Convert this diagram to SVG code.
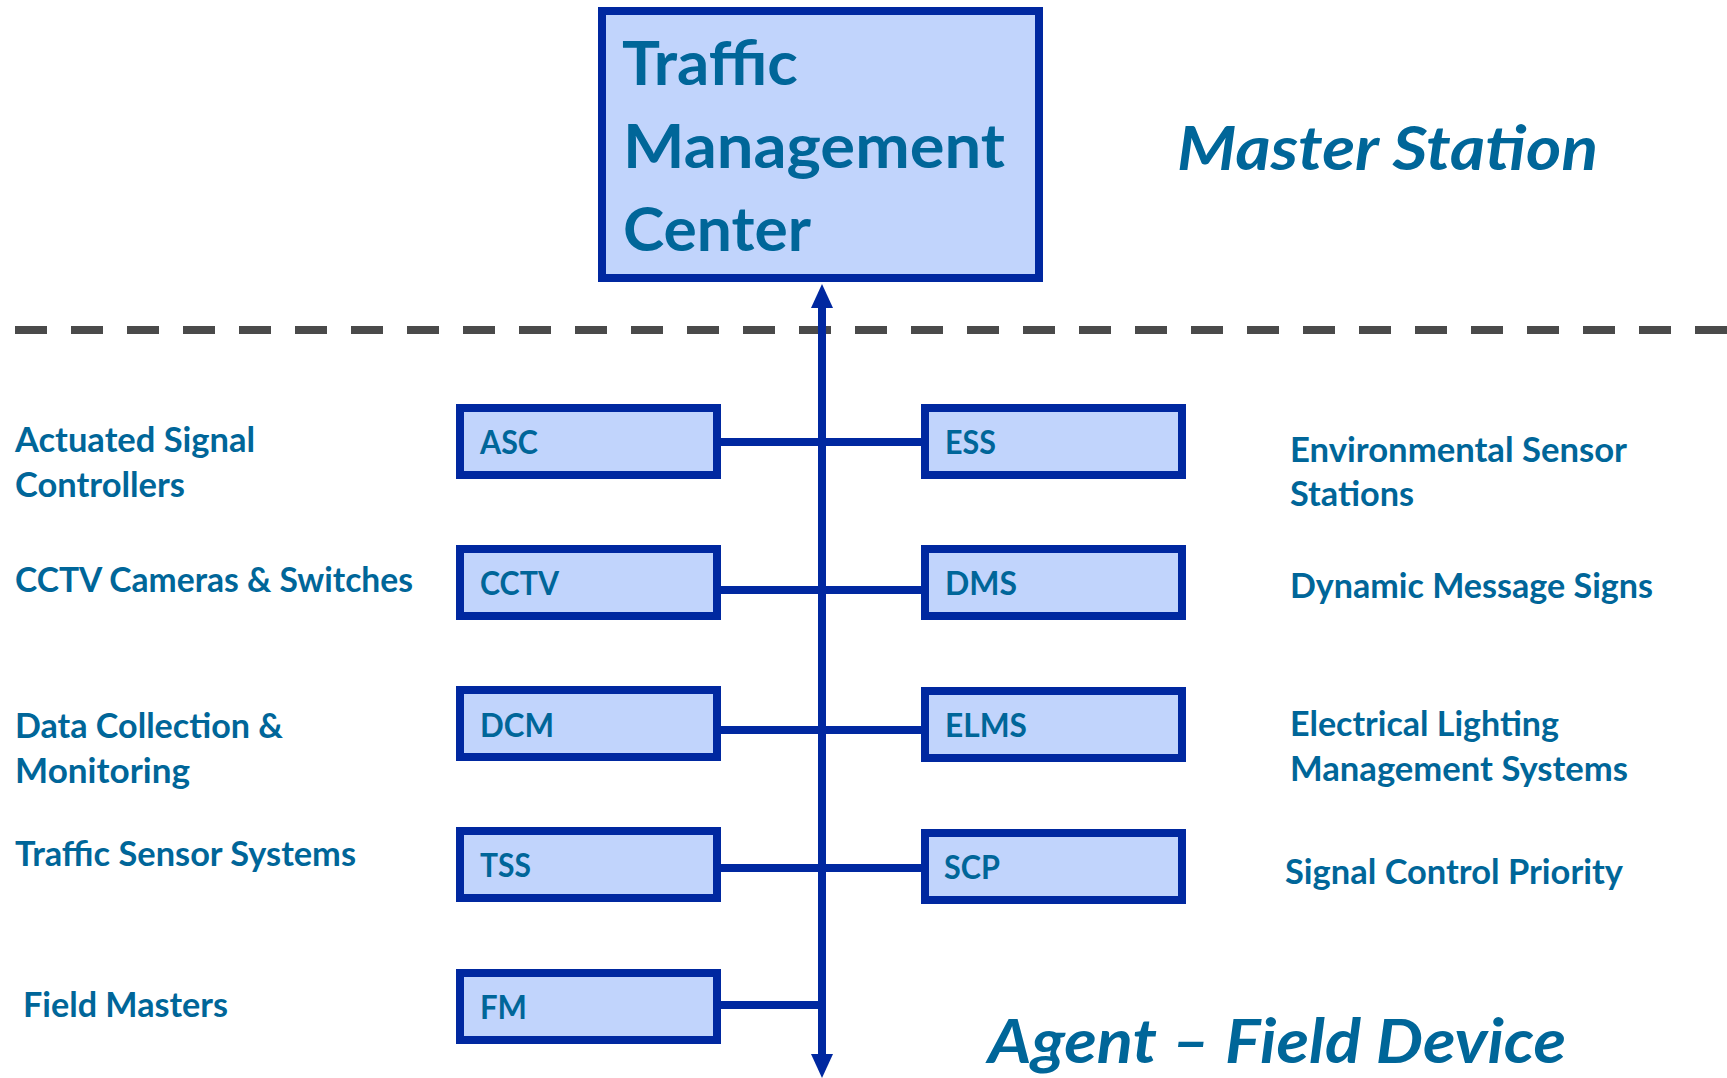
<svg xmlns="http://www.w3.org/2000/svg" width="1727" height="1078" viewBox="0 0 1727 1078">
<style>
.box{fill:#C1D4FC;stroke:#0028A0;stroke-width:8}
.conn{stroke:#0028A0;stroke-width:8;fill:none}
.t{font-family:Lato,"Open Sans","Liberation Sans",sans-serif;font-weight:bold;fill:#006699}
.lbl{font-size:35px}
.bl{font-size:33px}
.big{font-size:61px}
.it{font-size:61px;font-style:italic}
</style>
<defs>
<marker id="ah" viewBox="0 0 24 22" refX="2" refY="11" markerWidth="24" markerHeight="22" markerUnits="userSpaceOnUse" orient="auto-start-reverse">
<path d="M0,0 L24,11 L0,22 Z" fill="#0028A0"/>
</marker>
</defs>
<rect width="1727" height="1078" fill="#ffffff"/>
<line x1="15" y1="330" x2="1727" y2="330" stroke="#4a4a4a" stroke-width="8" stroke-dasharray="32 24"/>
<g id="connectors">
<line class="conn" x1="822" y1="1056" x2="822" y2="306" marker-end="url(#ah)" marker-start="url(#ah)"/>
<line class="conn" x1="717" y1="442" x2="925" y2="442"/>
<line class="conn" x1="717" y1="590" x2="925" y2="590"/>
<line class="conn" x1="717" y1="730" x2="925" y2="730"/>
<line class="conn" x1="717" y1="868" x2="925" y2="868"/>
<line class="conn" x1="717" y1="1005" x2="822" y2="1005"/>
</g>
<g id="tmc">
<rect class="box" x="602" y="11" width="437" height="267"/>
<text class="t big" x="622" y="85" textLength="176" lengthAdjust="spacingAndGlyphs">Traffic</text>
<text class="t big" x="623" y="168" textLength="382" lengthAdjust="spacingAndGlyphs">Management</text>
<text class="t big" x="623" y="251" textLength="188" lengthAdjust="spacingAndGlyphs">Center</text>
</g>
<g id="asc"><rect class="box" x="460" y="408" width="257" height="67"/><text class="t bl" x="480" y="454" textLength="58" lengthAdjust="spacingAndGlyphs">ASC</text></g>
<g id="cctv"><rect class="box" x="460" y="549" width="257" height="67"/><text class="t bl" x="480" y="595" textLength="79" lengthAdjust="spacingAndGlyphs">CCTV</text></g>
<g id="dcm"><rect class="box" x="460" y="690" width="257" height="67"/><text class="t bl" x="480" y="737" textLength="74" lengthAdjust="spacingAndGlyphs">DCM</text></g>
<g id="tss"><rect class="box" x="460" y="831" width="257" height="67"/><text class="t bl" x="480" y="877" textLength="51" lengthAdjust="spacingAndGlyphs">TSS</text></g>
<g id="fm"><rect class="box" x="460" y="973" width="257" height="67"/><text class="t bl" x="480" y="1019" textLength="47" lengthAdjust="spacingAndGlyphs">FM</text></g>
<g id="ess"><rect class="box" x="925" y="408" width="257" height="67"/><text class="t bl" x="945" y="454" textLength="51" lengthAdjust="spacingAndGlyphs">ESS</text></g>
<g id="dms"><rect class="box" x="925" y="549" width="257" height="67"/><text class="t bl" x="945" y="595" textLength="72" lengthAdjust="spacingAndGlyphs">DMS</text></g>
<g id="elms"><rect class="box" x="925" y="691" width="257" height="67"/><text class="t bl" x="945" y="737" textLength="82" lengthAdjust="spacingAndGlyphs">ELMS</text></g>
<g id="scp"><rect class="box" x="925" y="833" width="257" height="67"/><text class="t bl" x="944" y="879" textLength="56" lengthAdjust="spacingAndGlyphs">SCP</text></g>
<g id="labels">
<text class="t lbl" x="15" y="452" textLength="240" lengthAdjust="spacingAndGlyphs">Actuated Signal</text>
<text class="t lbl" x="15" y="497" textLength="170" lengthAdjust="spacingAndGlyphs">Controllers</text>
<text class="t lbl" x="15" y="592" textLength="398" lengthAdjust="spacingAndGlyphs">CCTV Cameras &amp; Switches</text>
<text class="t lbl" x="15" y="738" textLength="268" lengthAdjust="spacingAndGlyphs">Data Collection &amp;</text>
<text class="t lbl" x="15" y="783" textLength="175" lengthAdjust="spacingAndGlyphs">Monitoring</text>
<text class="t lbl" x="15" y="866" textLength="341" lengthAdjust="spacingAndGlyphs">Traffic Sensor Systems</text>
<text class="t lbl" x="23" y="1017" textLength="205" lengthAdjust="spacingAndGlyphs">Field Masters</text>
<text class="t lbl" x="1290" y="462" textLength="337" lengthAdjust="spacingAndGlyphs">Environmental Sensor</text>
<text class="t lbl" x="1290" y="506" textLength="124" lengthAdjust="spacingAndGlyphs">Stations</text>
<text class="t lbl" x="1290" y="598" textLength="363" lengthAdjust="spacingAndGlyphs">Dynamic Message Signs</text>
<text class="t lbl" x="1290" y="736" textLength="269" lengthAdjust="spacingAndGlyphs">Electrical Lighting</text>
<text class="t lbl" x="1290" y="781" textLength="338" lengthAdjust="spacingAndGlyphs">Management Systems</text>
<text class="t lbl" x="1285" y="884" textLength="338" lengthAdjust="spacingAndGlyphs">Signal Control Priority</text>
<text class="t it" x="1177" y="170" textLength="421" lengthAdjust="spacingAndGlyphs">Master Station</text>
<text class="t it" x="988" y="1063" textLength="578" lengthAdjust="spacingAndGlyphs">Agent – Field Device</text>
</g>
</svg>
